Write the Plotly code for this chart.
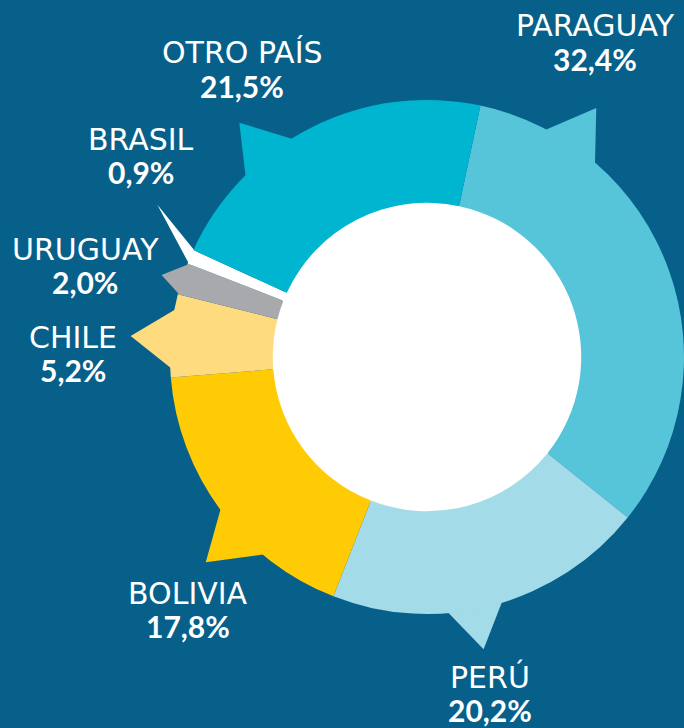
import math
import plotly.graph_objects as go

# ---- data ----
countries = ["PARAGUAY", "PERÚ", "BOLIVIA", "CHILE", "URUGUAY", "BRASIL", "OTRO PAÍS"]
shares = [32.4, 20.2, 17.8, 5.2, 2.0, 0.9, 21.5]
pct_labels = [f"{v:.1f}".replace(".", ",") + "%" for v in shares]

# ---- styles / layout geometry ----
slice_colors = ["#56c5d9", "#a3dbe8", "#ffcb05", "#ffdb80", "#a7a9ac", "#ffffff", "#00b5cf"]
W, H = 684, 728
CX, CY, R = 427, 357, 257          # donut centre and outer radius (px)
HOLE = 0.6
ROTATION = 12                      # degrees clockwise from 12 o'clock
BG = "#06608a"

# speech-bubble tails: (base start offset, base end offset, tip offset) in degrees from
# the slice start (None = slice end), and tip distance as a multiple of the radius
pointer_geom = [
    (15.4, 29.1, 22.2, 1.172),
    (34.2, 46.8, 40.4, 1.158),
    (18.1, 32.4, 25.8, 1.174),
    (1.9, 15.4, 8.6, 1.156),
    (0.0, None, 3.0, 1.081),
    (0.0, None, 8.1, 1.205),
    (20.2, 33.9, 26.7, 1.168),
]
label_pos = [(595, 26), (490, 677), (188, 593), (73, 337), (85, 249), (141, 139), (242, 53)]
LINE_GAP = 33


def to_paper(x, y):
    return x / W, 1 - y / H


def polar(angle_deg, r):
    a = math.radians(angle_deg)
    return CX + r * math.sin(a), CY - r * math.cos(a)


total = sum(shares)
shapes = []

# white centre disc (shows through the donut hole)
r_in = R * HOLE + 1.5
x0, y0 = to_paper(CX - r_in, CY + r_in)
x1, y1 = to_paper(CX + r_in, CY - r_in)
shapes.append(dict(type="circle", xref="paper", yref="paper", x0=x0, y0=y0, x1=x1, y1=y1,
                   fillcolor="#ffffff", line=dict(width=0), layer="below"))

# tails, computed from the slice angles
start = ROTATION
for v, col, geom in zip(shares, slice_colors, pointer_geom):
    span = v / total * 360.0
    b0, b1, t, tr = geom
    a0 = start + b0
    a1 = start + (span if b1 is None else b1)
    at = start + t
    pts = [polar(a0, R - 1.5), polar(at, R * tr), polar(a1, R - 1.5), polar((a0 + a1) / 2, R * 0.8)]
    pp = [to_paper(*p) for p in pts]
    path = "M " + " L ".join(f"{x:.5f},{y:.5f}" for x, y in pp) + " Z"
    shapes.append(dict(type="path", xref="paper", yref="paper", path=path,
                       fillcolor=col, line=dict(width=0), layer="below"))
    start += span

# pie domain so that the donut sits at (CX, CY) with radius R
dx0, dx1 = (CX - R) / W, min(1.0, (CX + R) / W)
dy0, dy1 = 1 - (CY + R) / H, 1 - (CY - R) / H

fig = go.Figure(go.Pie(
    labels=countries,
    values=shares,
    sort=False,
    direction="clockwise",
    rotation=ROTATION,
    hole=HOLE,
    marker=dict(colors=slice_colors, line=dict(width=0)),
    textinfo="none",
    hoverinfo="label+percent",
    showlegend=False,
    domain=dict(x=[dx0, dx1], y=[dy0, dy1]),
))

annotations = []
for name, pct, (lx, ly) in zip(countries, pct_labels, label_pos):
    xa, ya = to_paper(lx, ly)
    annotations.append(dict(x=xa, y=ya, xref="paper", yref="paper", text=name, showarrow=False,
                            xanchor="center", yanchor="middle",
                            font=dict(family="DejaVu Sans", size=30, color="#ffffff")))
    xb, yb = to_paper(lx, ly + LINE_GAP)
    annotations.append(dict(x=xb, y=yb, xref="paper", yref="paper", text=pct, showarrow=False,
                            xanchor="center", yanchor="middle",
                            font=dict(family="Lato", size=30, color="#ffffff", weight=700)))

fig.update_layout(
    width=W, height=H,
    margin=dict(l=0, r=0, t=0, b=0),
    paper_bgcolor=BG,
    plot_bgcolor=BG,
    shapes=shapes,
    annotations=annotations,
)

fig.write_html(
    "out.html",
    config={"displayModeBar": False},
    post_script="document.body.style.margin='0';document.body.style.overflow='hidden';"
                "document.documentElement.style.overflow='hidden';",
)
